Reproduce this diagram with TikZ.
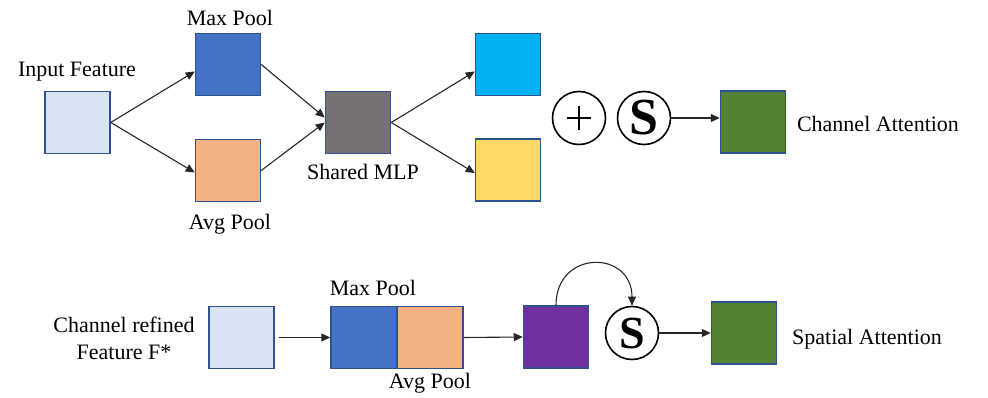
\documentclass[tikz,border=0pt]{standalone}
\usepackage{fontspec}
\setmainfont{Liberation Serif}
\usetikzlibrary{arrows.meta}
\definecolor{bord}{HTML}{2F528F}
\definecolor{cin}{HTML}{DAE3F3}
\definecolor{cmax}{HTML}{4472C4}
\definecolor{cavg}{HTML}{F4B183}
\definecolor{cmlp}{HTML}{767171}
\definecolor{ccyan}{HTML}{00B0F0}
\definecolor{cyel}{HTML}{FFD966}
\definecolor{cgreen}{HTML}{548235}
\definecolor{cpurp}{HTML}{7030A0}
\definecolor{arr}{HTML}{262626}
\begin{document}
\begin{tikzpicture}[x=1pt,y=-1pt,
  box/.style={draw=bord,line width=1.5pt,inner sep=0pt,minimum width=65pt,minimum height=62pt},
  lbl/.style={inner sep=0pt,font=\fontsize{22}{27}\selectfont,align=center},
  opcirc/.style={draw=black,line width=1.6pt,circle,inner sep=0pt,minimum size=53pt},
  conn/.style={draw=arr,line width=1.1pt,-{Triangle[length=9pt,width=8pt]}}]
\useasboundingbox (0,0) rectangle (988,398);
% top row
\node[box,fill=cin] (in) at (77.5,122.5) {};
\node[box,fill=cmax] (mp) at (228,64.5) {};
\node[box,fill=cavg] (ap) at (228,170.5) {};
\node[box,fill=cmlp] (mlp) at (358,122.5) {};
\node[box,fill=ccyan] (oc) at (508,64.5) {};
\node[box,fill=cyel] (oy) at (508,170) {};
\node[opcirc] (plus) at (579,118) {};
\draw[line width=1.8pt] ([xshift=-12pt]plus.center) -- ([xshift=12pt]plus.center)
  ([yshift=-12pt]plus.center) -- ([yshift=12pt]plus.center);
\node[opcirc,font=\fontsize{52}{52}\selectfont\bfseries] (sg) at (644,118) {S};
\node[box,fill=cgreen] (ca) at (753,122) {};
\node[lbl] (tin) at (77,72) {Input Feature};
\node[lbl] (tmp) at (230,18) {Max Pool};
\node[lbl] (tap) at (230,224) {Avg Pool};
\node[lbl] (tmlp) at (363,172) {Shared MLP};
\node[lbl] (tca) at (878,124) {Channel Attention};
\draw[conn] (in.east) -- ([yshift=-7pt]mp.west);
\draw[conn] (in.east) -- ([yshift=-2pt]ap.west);
\draw[conn] (mp.east) -- ([yshift=5pt]mlp.west);
\draw[conn] (ap.east) -- (mlp.west);
\draw[conn] (mlp.east) -- ([yshift=-7pt]oc.west);
\draw[conn] (mlp.east) -- ([yshift=-3pt]oy.west);
\draw[conn] (sg.east) -- (sg.east -| ca.west);
% bottom row
\node[box,fill=cin] (fin) at (241.5,337.5) {};
\node[box,fill=cmax,minimum width=66pt] (mp2) at (364,337.5) {};
\node[box,fill=cavg,minimum width=66pt] (ap2) at (430,337.5) {};
\node[box,fill=cpurp] (pu) at (556,337) {};
\node[opcirc,font=\fontsize{46}{46}\selectfont\bfseries] (s2) at (632,333) {S};
\node[box,fill=cgreen] (sa) at (744,333) {};
\node[lbl] (tfin) at (124,338) {Channel refined\\Feature F*};
\node[lbl] (tmp2) at (373,288) {Max Pool};
\node[lbl] (tap2) at (430,383) {Avg Pool};
\node[lbl] (tsa) at (867,339) {Spatial Attention};
\draw[conn,shorten <=4pt] (fin.east) -- (mp2.west);
\draw[conn] (ap2.east) -- (pu.west);
\draw[conn] (pu.north) .. controls ([yshift=56pt]pu.north) and ([yshift=56pt]s2.north) .. (s2.north);
\draw[conn] (s2.east) -- (s2.east -| sa.west);
\end{tikzpicture}
\end{document}
